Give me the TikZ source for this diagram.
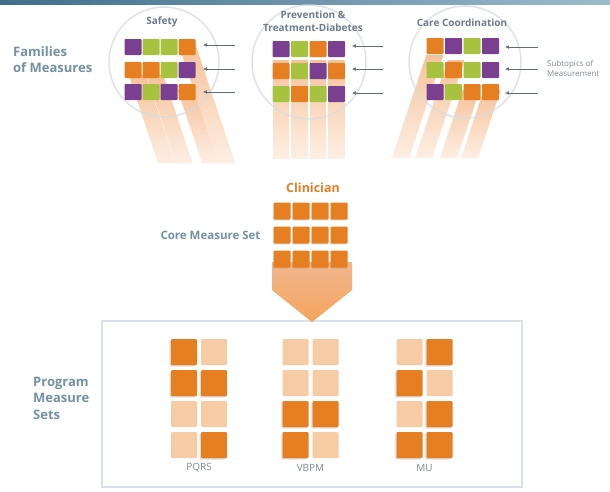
\documentclass[tikz,border=0pt]{standalone}
\usepackage{fontspec}
\setmainfont{Open Sans}
\usetikzlibrary{arrows.meta}
\definecolor{cP}{HTML}{7B3F91}
\definecolor{cG}{HTML}{A6C23E}
\definecolor{cO}{HTML}{E67E22}
\definecolor{cL}{HTML}{F7CBA3}
\definecolor{slate}{HTML}{7390A6}
\definecolor{headc}{HTML}{6C7C88}
\definecolor{graytxt}{HTML}{808A92}
\definecolor{ringc}{HTML}{D5DDE3}
\definecolor{boxc}{HTML}{D6E1E9}
\definecolor{beamtop}{HTML}{F6C29A}
\definecolor{beambot}{HTML}{FDEFE4}
\definecolor{bandL}{HTML}{3F6E8C}
\definecolor{bandR}{HTML}{9DBBCD}
\definecolor{arrc}{HTML}{5E6D77}
\definecolor{chevT}{HTML}{F0B890}
\definecolor{chevM}{HTML}{F7CCAA}
\definecolor{chevB}{HTML}{F5A35B}
\definecolor{shad}{HTML}{8A5A30}
\tikzset{
  sq/.style={minimum width=17pt, minimum height=16pt, inner sep=0pt, outer sep=0pt, rounded corners=0.8pt},
  csq/.style={minimum width=17pt, minimum height=17pt, inner sep=0pt, outer sep=0pt, rounded corners=0.8pt, fill=cO,
     preaction={fill=shad, fill opacity=0.15, transform canvas={xshift=-0.3pt, yshift=-1.2pt}}},
  psqD/.style={minimum width=26pt, minimum height=26pt, inner sep=0pt, outer sep=0pt, rounded corners=1pt, fill=cO,
     preaction={fill=shad, fill opacity=0.12, transform canvas={xshift=-1.6pt, yshift=-1.8pt}},
     preaction={fill=shad, fill opacity=0.15, transform canvas={xshift=-0.8pt, yshift=-0.9pt}}},
  psqL/.style={minimum width=26pt, minimum height=26pt, inner sep=0pt, outer sep=0pt, rounded corners=1pt, fill=cL},
  ring/.style={draw=ringc, line width=1.5pt},
  beam/.style={top color=beamtop, bottom color=beambot, draw=none},
  arr/.style={draw=arrc, line width=0.5pt, -{Latex[length=3.8pt,width=3.6pt]}},
  head/.style={font=\bfseries\fontsize{10}{12.5}\selectfont, text=headc, align=center, inner sep=0pt},
  lab/.style={font=\bfseries\fontsize{13}{16}\selectfont, text=slate, align=left, inner sep=0pt},
  plab/.style={font=\fontsize{10}{12}\selectfont, text=graytxt, inner sep=0pt},
}
\begin{document}
\begin{tikzpicture}[x=1pt,y=-1pt]
\useasboundingbox (0,0) rectangle (610,491);
\fill[white] (0,0) rectangle (610,491);
\shade[left color=bandL, right color=bandR] (0,0) rectangle (610,4);

% ---------- beams ----------
% Safety (down-right)
\shade[beam] (128.7,75) -- (145.7,75) -- (175,163) -- (158,163) -- cycle;
\shade[beam] (146.2,75) -- (163.2,75) -- (192.5,163) -- (175.5,163) -- cycle;
\shade[beam] (177.7,90) -- (194.7,90) -- (219,163) -- (202,163) -- cycle;
\shade[beam] (178.7,45) -- (195.7,45) -- (235,163) -- (218,163) -- cycle;
% Prevention (vertical)
\foreach \x in {281,299.5,318,336.5}
  \shade[beam] (\x-8,60) rectangle (\x+8,158);
% Care (down-left)
\shade[beam] (426.3,55) -- (443.3,55) -- (409,158) -- (392,158) -- cycle;
\shade[beam] (447.7,60) -- (464.7,60) -- (432,158) -- (415,158) -- cycle;
\shade[beam] (462.7,90) -- (479.7,90) -- (457,158) -- (440,158) -- cycle;
\shade[beam] (483.7,90) -- (500.7,90) -- (478,158) -- (461,158) -- cycle;

% ---------- rings ----------
\draw[ring, opacity=0.8] (164,62) circle (55pt);
\draw[ring, opacity=0.8] (309,62) circle (57pt);
\draw[ring, opacity=0.8] (465,62) circle (56pt);

% ---------- headings ----------
\node[head] (tsaf) at (162,22) {Safety};
\node[head, font=\bfseries\fontsize{10}{13}\selectfont] (tprev) at (313,21) {Prevention \&\\Treatment-Diabetes};
\node[head] (tcare) at (462,23) {Care Coordination};
\node[lab, anchor=west] (tfam) at (13,59.5) {Families\\of Measures};
\node[font=\fontsize{8}{9.5}\selectfont, text=graytxt, align=left, inner sep=0pt, anchor=west] (tsub) at (547,68.5) {Subtopics of\\Measurement};

% ---------- family squares ----------
\foreach \y/\cols [count=\r] in {47/{P,G,G,O},70/{O,O,G,P},92/{P,G,P,O}}
  \foreach \c [count=\i] in \cols
    \node[sq, fill=c\c] (saf-\r-\i) at (115+18*\i,\y) {};
\foreach \y/\cols [count=\r] in {49/{P,G,O,P},71/{O,G,P,O},94/{G,O,G,P}}
  \foreach \c [count=\i] in \cols
    \node[sq, fill=c\c] (pre-\r-\i) at (262.5+18.5*\i,\y) {};
\foreach \y/\cols [count=\r] in {46/{O,P,G,P},70/{G,O,G,P},92/{P,G,O,O}}
  \foreach \c [count=\i] in \cols
    \node[sq, fill=c\c] (car-\r-\i) at (416.5+18.5*\i,\y) {};

% ---------- arrows ----------
\foreach \y [count=\k] in {45,69,92} {
  \coordinate (sa\k) at (235,\y); \coordinate (sb\k) at (203,\y);
  \draw[arr] (sa\k) -- (sb\k);
}
\foreach \y [count=\k] in {46,69,93} {
  \coordinate (pa\k) at (383,\y); \coordinate (pb\k) at (352,\y);
  \draw[arr] (pa\k) -- (pb\k);
}
\foreach \y [count=\k] in {47,69,93} {
  \coordinate (ca\k) at (538,\y); \coordinate (cb\k) at (505,\y);
  \draw[arr] (ca\k) -- (cb\k);
}

% ---------- program box ----------
\node[draw=boxc, line width=2.5pt, minimum width=420pt, minimum height=166pt, inner sep=0pt] (box) at (312,404) {};

% ---------- core measure set ----------
\shade[top color=chevT, middle color=chevM, bottom color=chevB]
  (272,262) -- (352,262) -- (352,290) -- (312,322) -- (272,290) -- cycle;
\node[font=\bfseries\fontsize{12.5}{15}\selectfont, text=cO, inner sep=0pt] (tclin) at (313,188) {Clinician};
\node[lab, font=\bfseries\fontsize{11.5}{14}\selectfont] (tcore) at (210.5,235.5) {Core Measure Set};
\foreach \y [count=\r] in {211,235,259}
  \foreach \x [count=\i] in {282,301,320,339}
    \node[csq] (core-\r-\i) at (\x,\y) {};

% ---------- program measure sets ----------
\node[lab, font=\bfseries\fontsize{13}{16.5}\selectfont, anchor=west] (tprog) at (33,398) {Program\\Measure\\Sets};
\foreach \y/\a/\b [count=\r] in {352/D/L,383/D/D,414/L/L,445/L/D} {
  \node[psq\a] (pq-\r-1) at (184,\y) {};
  \node[psq\b] (pq-\r-2) at (214,\y) {};
}
\foreach \y/\a/\b [count=\r] in {352/L/L,383/L/L,414/D/D,445/D/L} {
  \node[psq\a] (vb-\r-1) at (295.5,\y) {};
  \node[psq\b] (vb-\r-2) at (325.5,\y) {};
}
\foreach \y/\a/\b [count=\r] in {352/L/D,383/D/L,414/L/D,445/D/D} {
  \node[psq\a] (mu-\r-1) at (409.5,\y) {};
  \node[psq\b] (mu-\r-2) at (439.5,\y) {};
}
\node[plab] (tpqrs) at (199,468) {PQRS};
\node[plab] (tvbpm) at (310.5,468) {VBPM};
\node[plab] (tmu) at (424.5,468) {MU};
\end{tikzpicture}
\end{document}
